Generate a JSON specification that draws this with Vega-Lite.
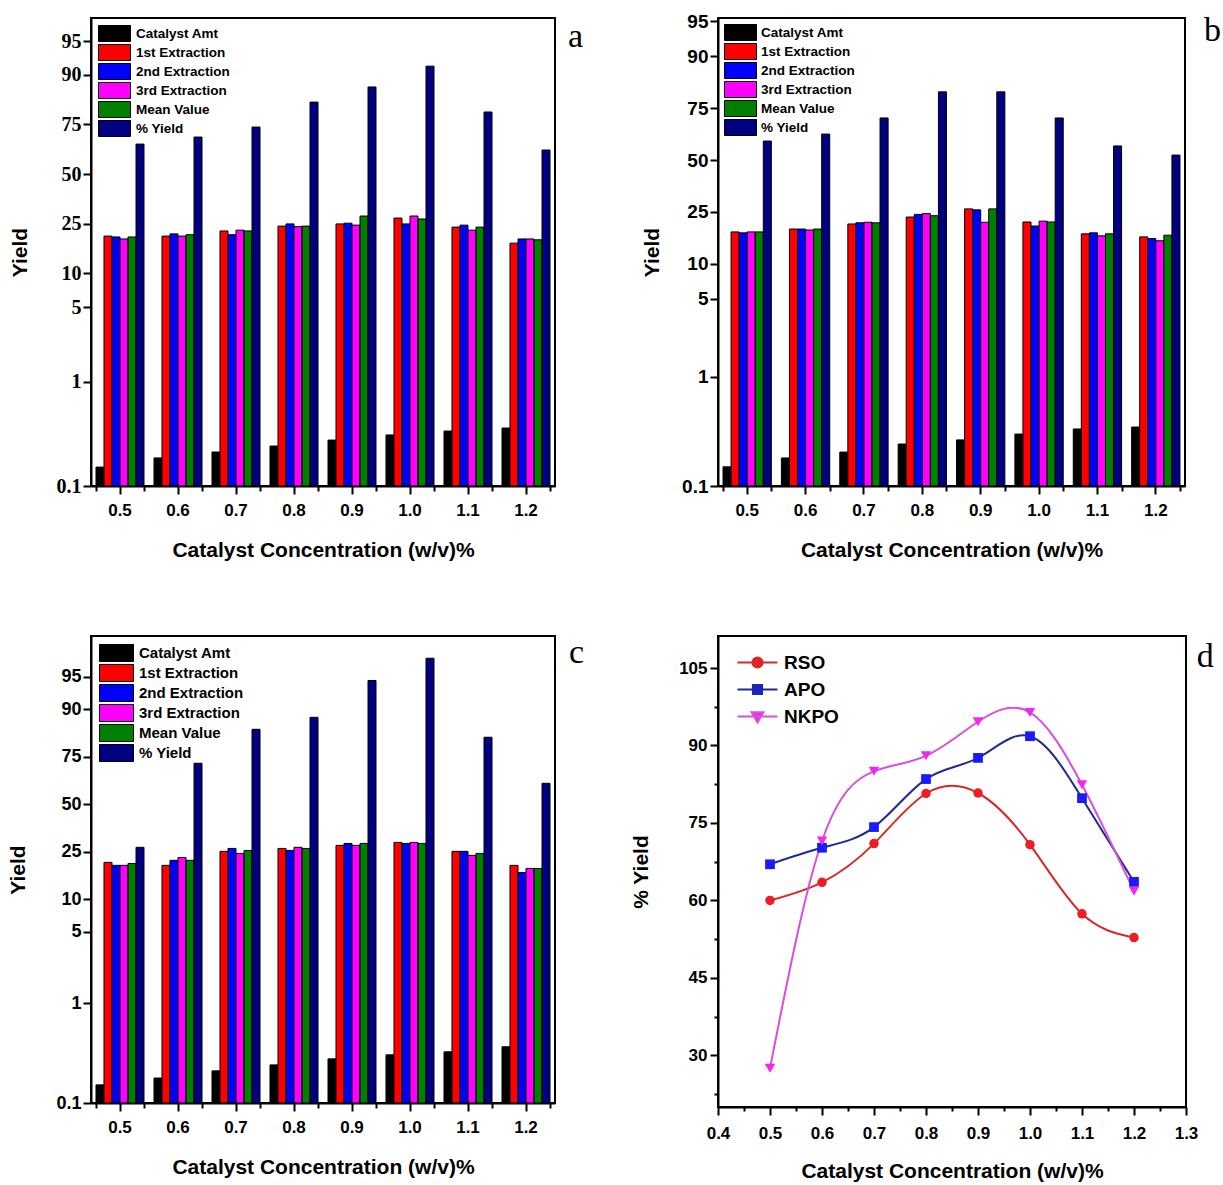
{
  "$schema": "https://vega.github.io/schema/vega-lite/v6.json",
  "padding": {"left": 6, "top": 11, "right": 5, "bottom": 5},
  "background": "white",
  "config": {
    "font": "Liberation Sans",
    "view": {"stroke": "black", "strokeWidth": 2},
    "axis": {"domainColor": "black", "domainWidth": 2, "tickColor": "black", "tickWidth": 2, "labelColor": "black", "titleColor": "black", "labelFontWeight": "bold", "titleFontWeight": "bold", "grid": false, "labelFont": "Liberation Sans", "titleFont": "Liberation Sans"},
    "legend": {"labelFont": "Liberation Sans", "labelFontWeight": "bold", "labelColor": "black"},
    "title": {"color": "black"}
  },
  "datasets": {
    "bars": [
      {"panel":"a","conc":"0.5","series":"Catalyst Amt","value":0.152},{"panel":"a","conc":"0.5","series":"1st Extraction","value":20.2},{"panel":"a","conc":"0.5","series":"2nd Extraction","value":19.9},{"panel":"a","conc":"0.5","series":"3rd Extraction","value":19.2},{"panel":"a","conc":"0.5","series":"Mean Value","value":19.9},{"panel":"a","conc":"0.5","series":"% Yield","value":66.0},
      {"panel":"a","conc":"0.6","series":"Catalyst Amt","value":0.186},{"panel":"a","conc":"0.6","series":"1st Extraction","value":20.2},{"panel":"a","conc":"0.6","series":"2nd Extraction","value":21.0},{"panel":"a","conc":"0.6","series":"3rd Extraction","value":20.2},{"panel":"a","conc":"0.6","series":"Mean Value","value":20.7},{"panel":"a","conc":"0.6","series":"% Yield","value":69.4},
      {"panel":"a","conc":"0.7","series":"Catalyst Amt","value":0.212},{"panel":"a","conc":"0.7","series":"1st Extraction","value":22.1},{"panel":"a","conc":"0.7","series":"2nd Extraction","value":20.7},{"panel":"a","conc":"0.7","series":"3rd Extraction","value":22.4},{"panel":"a","conc":"0.7","series":"Mean Value","value":22.1},{"panel":"a","conc":"0.7","series":"% Yield","value":73.9},
      {"panel":"a","conc":"0.8","series":"Catalyst Amt","value":0.242},{"panel":"a","conc":"0.8","series":"1st Extraction","value":24.0},{"panel":"a","conc":"0.8","series":"2nd Extraction","value":24.9},{"panel":"a","conc":"0.8","series":"3rd Extraction","value":23.8},{"panel":"a","conc":"0.8","series":"Mean Value","value":24.0},{"panel":"a","conc":"0.8","series":"% Yield","value":83.1},
      {"panel":"a","conc":"0.9","series":"Catalyst Amt","value":0.276},{"panel":"a","conc":"0.9","series":"1st Extraction","value":24.9},{"panel":"a","conc":"0.9","series":"2nd Extraction","value":25.2},{"panel":"a","conc":"0.9","series":"3rd Extraction","value":24.4},{"panel":"a","conc":"0.9","series":"Mean Value","value":28.3},{"panel":"a","conc":"0.9","series":"% Yield","value":87.3},
      {"panel":"a","conc":"1.0","series":"Catalyst Amt","value":0.309},{"panel":"a","conc":"1.0","series":"1st Extraction","value":27.4},{"panel":"a","conc":"1.0","series":"2nd Extraction","value":24.9},{"panel":"a","conc":"1.0","series":"3rd Extraction","value":28.3},{"panel":"a","conc":"1.0","series":"Mean Value","value":27.0},{"panel":"a","conc":"1.0","series":"% Yield","value":91.6},
      {"panel":"a","conc":"1.1","series":"Catalyst Amt","value":0.337},{"panel":"a","conc":"1.1","series":"1st Extraction","value":23.6},{"panel":"a","conc":"1.1","series":"2nd Extraction","value":24.4},{"panel":"a","conc":"1.1","series":"3rd Extraction","value":22.4},{"panel":"a","conc":"1.1","series":"Mean Value","value":23.6},{"panel":"a","conc":"1.1","series":"% Yield","value":79.8},
      {"panel":"a","conc":"1.2","series":"Catalyst Amt","value":0.360},{"panel":"a","conc":"1.2","series":"1st Extraction","value":17.8},{"panel":"a","conc":"1.2","series":"2nd Extraction","value":19.2},{"panel":"a","conc":"1.2","series":"3rd Extraction","value":19.2},{"panel":"a","conc":"1.2","series":"Mean Value","value":18.9},{"panel":"a","conc":"1.2","series":"% Yield","value":63.0},

      {"panel":"b","conc":"0.5","series":"Catalyst Amt","value":0.150},{"panel":"b","conc":"0.5","series":"1st Extraction","value":17.9},{"panel":"b","conc":"0.5","series":"2nd Extraction","value":17.6},{"panel":"b","conc":"0.5","series":"3rd Extraction","value":17.9},{"panel":"b","conc":"0.5","series":"Mean Value","value":17.9},{"panel":"b","conc":"0.5","series":"% Yield","value":59.9},
      {"panel":"b","conc":"0.6","series":"Catalyst Amt","value":0.181},{"panel":"b","conc":"0.6","series":"1st Extraction","value":18.8},{"panel":"b","conc":"0.6","series":"2nd Extraction","value":18.8},{"panel":"b","conc":"0.6","series":"3rd Extraction","value":18.5},{"panel":"b","conc":"0.6","series":"Mean Value","value":18.8},{"panel":"b","conc":"0.6","series":"% Yield","value":63.4},
      {"panel":"b","conc":"0.7","series":"Catalyst Amt","value":0.205},{"panel":"b","conc":"0.7","series":"1st Extraction","value":20.5},{"panel":"b","conc":"0.7","series":"2nd Extraction","value":20.9},{"panel":"b","conc":"0.7","series":"3rd Extraction","value":21.1},{"panel":"b","conc":"0.7","series":"Mean Value","value":20.9},{"panel":"b","conc":"0.7","series":"% Yield","value":70.9},
      {"panel":"b","conc":"0.8","series":"Catalyst Amt","value":0.243},{"panel":"b","conc":"0.8","series":"1st Extraction","value":23.0},{"panel":"b","conc":"0.8","series":"2nd Extraction","value":24.0},{"panel":"b","conc":"0.8","series":"3rd Extraction","value":24.3},{"panel":"b","conc":"0.8","series":"Mean Value","value":23.5},{"panel":"b","conc":"0.8","series":"% Yield","value":80.9},
      {"panel":"b","conc":"0.9","series":"Catalyst Amt","value":0.265},{"panel":"b","conc":"0.9","series":"1st Extraction","value":26.2},{"panel":"b","conc":"0.9","series":"2nd Extraction","value":25.8},{"panel":"b","conc":"0.9","series":"3rd Extraction","value":21.1},{"panel":"b","conc":"0.9","series":"Mean Value","value":26.2},{"panel":"b","conc":"0.9","series":"% Yield","value":80.9},
      {"panel":"b","conc":"1.0","series":"Catalyst Amt","value":0.300},{"panel":"b","conc":"1.0","series":"1st Extraction","value":21.2},{"panel":"b","conc":"1.0","series":"2nd Extraction","value":19.8},{"panel":"b","conc":"1.0","series":"3rd Extraction","value":21.5},{"panel":"b","conc":"1.0","series":"Mean Value","value":21.2},{"panel":"b","conc":"1.0","series":"% Yield","value":70.9},
      {"panel":"b","conc":"1.1","series":"Catalyst Amt","value":0.334},{"panel":"b","conc":"1.1","series":"1st Extraction","value":17.3},{"panel":"b","conc":"1.1","series":"2nd Extraction","value":17.6},{"panel":"b","conc":"1.1","series":"3rd Extraction","value":16.7},{"panel":"b","conc":"1.1","series":"Mean Value","value":17.3},{"panel":"b","conc":"1.1","series":"% Yield","value":57.4},
      {"panel":"b","conc":"1.2","series":"Catalyst Amt","value":0.348},{"panel":"b","conc":"1.2","series":"1st Extraction","value":16.4},{"panel":"b","conc":"1.2","series":"2nd Extraction","value":15.9},{"panel":"b","conc":"1.2","series":"3rd Extraction","value":15.3},{"panel":"b","conc":"1.2","series":"Mean Value","value":16.9},{"panel":"b","conc":"1.2","series":"% Yield","value":52.6},

      {"panel":"c","conc":"0.5","series":"Catalyst Amt","value":0.152},{"panel":"c","conc":"0.5","series":"1st Extraction","value":20.7},{"panel":"c","conc":"0.5","series":"2nd Extraction","value":19.6},{"panel":"c","conc":"0.5","series":"3rd Extraction","value":19.6},{"panel":"c","conc":"0.5","series":"Mean Value","value":20.3},{"panel":"c","conc":"0.5","series":"% Yield","value":27.0},
      {"panel":"c","conc":"0.6","series":"Catalyst Amt","value":0.178},{"panel":"c","conc":"0.6","series":"1st Extraction","value":19.6},{"panel":"c","conc":"0.6","series":"2nd Extraction","value":21.5},{"panel":"c","conc":"0.6","series":"3rd Extraction","value":22.6},{"panel":"c","conc":"0.6","series":"Mean Value","value":21.5},{"panel":"c","conc":"0.6","series":"% Yield","value":72.1},
      {"panel":"c","conc":"0.7","series":"Catalyst Amt","value":0.210},{"panel":"c","conc":"0.7","series":"1st Extraction","value":25.2},{"panel":"c","conc":"0.7","series":"2nd Extraction","value":26.5},{"panel":"c","conc":"0.7","series":"3rd Extraction","value":24.3},{"panel":"c","conc":"0.7","series":"Mean Value","value":25.6},{"panel":"c","conc":"0.7","series":"% Yield","value":85.0},
      {"panel":"c","conc":"0.8","series":"Catalyst Amt","value":0.241},{"panel":"c","conc":"0.8","series":"1st Extraction","value":26.5},{"panel":"c","conc":"0.8","series":"2nd Extraction","value":25.6},{"panel":"c","conc":"0.8","series":"3rd Extraction","value":27.0},{"panel":"c","conc":"0.8","series":"Mean Value","value":26.5},{"panel":"c","conc":"0.8","series":"% Yield","value":88.2},
      {"panel":"c","conc":"0.9","series":"Catalyst Amt","value":0.277},{"panel":"c","conc":"0.9","series":"1st Extraction","value":27.9},{"panel":"c","conc":"0.9","series":"2nd Extraction","value":28.8},{"panel":"c","conc":"0.9","series":"3rd Extraction","value":27.9},{"panel":"c","conc":"0.9","series":"Mean Value","value":28.8},{"panel":"c","conc":"0.9","series":"% Yield","value":94.6},
      {"panel":"c","conc":"1.0","series":"Catalyst Amt","value":0.304},{"panel":"c","conc":"1.0","series":"1st Extraction","value":29.3},{"panel":"c","conc":"1.0","series":"2nd Extraction","value":28.8},{"panel":"c","conc":"1.0","series":"3rd Extraction","value":29.3},{"panel":"c","conc":"1.0","series":"Mean Value","value":28.8},{"panel":"c","conc":"1.0","series":"% Yield","value":96.7},
      {"panel":"c","conc":"1.1","series":"Catalyst Amt","value":0.326},{"panel":"c","conc":"1.1","series":"1st Extraction","value":25.2},{"panel":"c","conc":"1.1","series":"2nd Extraction","value":25.2},{"panel":"c","conc":"1.1","series":"3rd Extraction","value":23.5},{"panel":"c","conc":"1.1","series":"Mean Value","value":24.3},{"panel":"c","conc":"1.1","series":"% Yield","value":82.5},
      {"panel":"c","conc":"1.2","series":"Catalyst Amt","value":0.366},{"panel":"c","conc":"1.2","series":"1st Extraction","value":19.6},{"panel":"c","conc":"1.2","series":"2nd Extraction","value":17.1},{"panel":"c","conc":"1.2","series":"3rd Extraction","value":18.5},{"panel":"c","conc":"1.2","series":"Mean Value","value":18.5},{"panel":"c","conc":"1.2","series":"% Yield","value":61.9}
    ],
    "lines": [
      {"conc":0.5,"oil":"RSO","yield":60.0},{"conc":0.6,"oil":"RSO","yield":63.5},{"conc":0.7,"oil":"RSO","yield":71.0},{"conc":0.8,"oil":"RSO","yield":80.7},{"conc":0.9,"oil":"RSO","yield":80.8},{"conc":1.0,"oil":"RSO","yield":70.8},{"conc":1.1,"oil":"RSO","yield":57.4},{"conc":1.2,"oil":"RSO","yield":52.8},
      {"conc":0.5,"oil":"APO","yield":67.0},{"conc":0.6,"oil":"APO","yield":70.2},{"conc":0.7,"oil":"APO","yield":74.2},{"conc":0.8,"oil":"APO","yield":83.5},{"conc":0.9,"oil":"APO","yield":87.6},{"conc":1.0,"oil":"APO","yield":91.8},{"conc":1.1,"oil":"APO","yield":79.8},{"conc":1.2,"oil":"APO","yield":63.6},
      {"conc":0.5,"oil":"NKPO","yield":27.5},{"conc":0.6,"oil":"NKPO","yield":71.5},{"conc":0.7,"oil":"NKPO","yield":85.0},{"conc":0.8,"oil":"NKPO","yield":88.0},{"conc":0.9,"oil":"NKPO","yield":94.6},{"conc":1.0,"oil":"NKPO","yield":96.4},{"conc":1.1,"oil":"NKPO","yield":82.4},{"conc":1.2,"oil":"NKPO","yield":61.8}
    ]
  },
  "columns": 2,
  "bounds": "flush",
  "spacing": {"row": 150, "column": 163},
  "resolve": {"scale": {"color": "independent", "x": "independent", "y": "independent", "xOffset": "independent"}},
  "concat": [
    {
      "width": 464, "height": 468,
      "title": {"text": "a", "orient": "right", "anchor": "start", "angle": 0, "align": "left", "baseline": "top", "font": "Liberation Serif", "fontSize": 34, "fontWeight": "normal", "offset": -2, "dy": 2},
      "data": {"name": "bars"},
      "transform": [{"filter": "datum.panel === 'a'"}, {"calculate": "log(datum.value/(100-datum.value))", "as": "ly"}],
      "layer": [
        {
          "mark": {"type": "bar", "stroke": "black", "strokeWidth": 1},
          "encoding": {
            "x": {"field": "conc", "type": "nominal", "scale": {"paddingInner": 0.172, "paddingOuter": 0.086},
                  "axis": {"labelAngle": 0, "labelFontSize": 17, "tickSize": 8, "labelPadding": 8, "title": "Catalyst Concentration (w/v)%", "titleFontSize": 21, "titlePadding": 21}},
            "xOffset": {"field": "series", "type": "nominal", "scale": {"domain": ["Catalyst Amt","1st Extraction","2nd Extraction","3rd Extraction","Mean Value","% Yield"], "paddingInner": 0, "paddingOuter": 0}},
            "y": {"field": "ly", "type": "quantitative", "scale": {"domain": [-6.906755, 3.455], "nice": false, "zero": false},
                  "axis": {"values": [-6.906755, -4.59512, -2.944439, -2.197225, -1.098612, 0, 1.098612, 2.197225, 2.944439], "labelExpr": "format(100/(1+exp(-datum.value)), '.2~r')", "labelFont": "Liberation Serif", "labelFontSize": 20, "tickSize": 8, "labelPadding": 2, "title": "Yield", "titleFontSize": 21, "titlePadding": 26}},
            "y2": {"datum": -6.906755},
            "color": {"field": "series", "type": "nominal", "scale": {"domain": ["Catalyst Amt","1st Extraction","2nd Extraction","3rd Extraction","Mean Value","% Yield"], "range": ["#000000","#ff0000","#0000ff","#ff00ff","#008000","#000080"]},
                      "legend": {"title": null, "orient": "top-left", "offset": 7, "padding": 0, "symbolType": "M-1,-1H3V1H-1Z", "symbolSize": 256, "symbolStrokeColor": "black", "symbolStrokeWidth": 1, "symbolOpacity": 1, "labelFontSize": 13.5, "labelOffset": 21, "rowPadding": -4}}
          }
        },
        {
          "mark": {"type": "rule", "opacity": 0},
          "encoding": {"x": {"field": "conc", "type": "nominal", "axis": {"orient": "bottom", "tickBand": "extent", "labels": false, "domain": false, "title": null, "tickSize": 5}}}
        }
      ],
      "resolve": {"axis": {"x": "independent"}}
    },
    {
      "width": 467, "height": 468,
      "title": {"text": "b", "orient": "right", "anchor": "start", "angle": 0, "align": "left", "baseline": "top", "font": "Liberation Serif", "fontSize": 34, "fontWeight": "normal", "offset": 2, "dy": 2},
      "data": {"name": "bars"},
      "transform": [{"filter": "datum.panel === 'b'"}, {"calculate": "log(datum.value/(100-datum.value))", "as": "ly"}],
      "layer": [
        {
          "mark": {"type": "bar", "stroke": "black", "strokeWidth": 1},
          "encoding": {
            "x": {"field": "conc", "type": "nominal", "scale": {"paddingInner": 0.172, "paddingOuter": 0.086},
                  "axis": {"labelAngle": 0, "labelFontSize": 17, "tickSize": 8, "labelPadding": 8, "title": "Catalyst Concentration (w/v)%", "titleFontSize": 21, "titlePadding": 21}},
            "xOffset": {"field": "series", "type": "nominal", "scale": {"domain": ["Catalyst Amt","1st Extraction","2nd Extraction","3rd Extraction","Mean Value","% Yield"], "paddingInner": 0, "paddingOuter": 0}},
            "y": {"field": "ly", "type": "quantitative", "scale": {"domain": [-6.906755, 3.0085], "nice": false, "zero": false},
                  "axis": {"values": [-6.906755, -4.59512, -2.944439, -2.197225, -1.098612, 0, 1.098612, 2.197225, 2.944439], "labelExpr": "format(100/(1+exp(-datum.value)), '.2~r')", "labelFontSize": 19, "tickSize": 8, "labelPadding": 2, "title": "Yield", "titleFontSize": 21, "titlePadding": 19}},
            "y2": {"datum": -6.906755},
            "color": {"field": "series", "type": "nominal", "scale": {"domain": ["Catalyst Amt","1st Extraction","2nd Extraction","3rd Extraction","Mean Value","% Yield"], "range": ["#000000","#ff0000","#0000ff","#ff00ff","#008000","#000080"]},
                      "legend": {"title": null, "orient": "top-left", "offset": 6, "padding": 0, "symbolType": "M-1,-1H3V1H-1Z", "symbolSize": 256, "symbolStrokeColor": "black", "symbolStrokeWidth": 1, "symbolOpacity": 1, "labelFontSize": 13.5, "labelOffset": 20, "rowPadding": -4}}
          }
        },
        {
          "mark": {"type": "rule", "opacity": 0},
          "encoding": {"x": {"field": "conc", "type": "nominal", "axis": {"orient": "bottom", "tickBand": "extent", "labels": false, "domain": false, "title": null, "tickSize": 5}}}
        }
      ],
      "resolve": {"axis": {"x": "independent"}}
    },
    {
      "width": 464, "height": 467,
      "title": {"text": "c", "orient": "right", "anchor": "start", "angle": 0, "align": "left", "baseline": "top", "font": "Liberation Serif", "fontSize": 34, "fontWeight": "normal", "offset": -1, "dy": 0},
      "data": {"name": "bars"},
      "transform": [{"filter": "datum.panel === 'c'"}, {"calculate": "log(datum.value/(100-datum.value))", "as": "ly"}],
      "layer": [
        {
          "mark": {"type": "bar", "stroke": "black", "strokeWidth": 1},
          "encoding": {
            "x": {"field": "conc", "type": "nominal", "scale": {"paddingInner": 0.172, "paddingOuter": 0.086},
                  "axis": {"labelAngle": 0, "labelFontSize": 17, "tickSize": 8, "labelPadding": 8, "title": "Catalyst Concentration (w/v)%", "titleFontSize": 21, "titlePadding": 21}},
            "xOffset": {"field": "series", "type": "nominal", "scale": {"domain": ["Catalyst Amt","1st Extraction","2nd Extraction","3rd Extraction","Mean Value","% Yield"], "paddingInner": 0, "paddingOuter": 0}},
            "y": {"field": "ly", "type": "quantitative", "scale": {"domain": [-6.906755, 3.89182], "nice": false, "zero": false},
                  "axis": {"values": [-6.906755, -4.59512, -2.944439, -2.197225, -1.098612, 0, 1.098612, 2.197225, 2.944439], "labelExpr": "format(100/(1+exp(-datum.value)), '.2~r')", "labelFontSize": 18, "tickSize": 8, "labelPadding": 2, "title": "Yield", "titleFontSize": 21, "titlePadding": 27}},
            "y2": {"datum": -6.906755},
            "color": {"field": "series", "type": "nominal", "scale": {"domain": ["Catalyst Amt","1st Extraction","2nd Extraction","3rd Extraction","Mean Value","% Yield"], "range": ["#000000","#ff0000","#0000ff","#ff00ff","#008000","#000080"]},
                      "legend": {"title": null, "orient": "top-left", "offset": 8, "padding": 0, "symbolType": "M-1,-1H3V1H-1Z", "symbolSize": 289, "symbolStrokeColor": "black", "symbolStrokeWidth": 1, "symbolOpacity": 1, "labelFontSize": 15, "labelOffset": 22, "rowPadding": -2.8}}
          }
        },
        {
          "mark": {"type": "rule", "opacity": 0},
          "encoding": {"x": {"field": "conc", "type": "nominal", "axis": {"orient": "bottom", "tickBand": "extent", "labels": false, "domain": false, "title": null, "tickSize": 5}}}
        }
      ],
      "resolve": {"axis": {"x": "independent"}}
    },
    {
      "width": 468, "height": 471,
      "title": {"text": "d", "orient": "right", "anchor": "start", "angle": 0, "align": "left", "baseline": "top", "font": "Liberation Serif", "fontSize": 34, "fontWeight": "normal", "offset": -18, "dy": 4},
      "data": {"name": "lines"},
      "layer": [
        {
          "mark": {"type": "line", "interpolate": "natural", "strokeWidth": 2},
          "encoding": {
            "x": {"field": "conc", "type": "quantitative", "scale": {"domain": [0.4, 1.3], "nice": false, "zero": false},
                  "axis": {"values": [0.4, 0.5, 0.6, 0.7, 0.8, 0.9, 1.0, 1.1, 1.2, 1.3], "format": ".1f", "labelFontSize": 17, "tickSize": 8, "labelPadding": 10, "labelFlush": false, "title": "Catalyst Concentration (w/v)%", "titleFontSize": 21, "titlePadding": 19}},
            "y": {"field": "yield", "type": "quantitative", "scale": {"domain": [20, 111.2], "nice": false, "zero": false},
                  "axis": {"values": [30, 45, 60, 75, 90, 105], "labelFontSize": 17, "tickSize": 8, "labelPadding": 3, "labelFlush": false, "title": "% Yield", "titleFontSize": 21, "titlePadding": 27}},
            "color": {"field": "oil", "type": "nominal", "scale": {"domain": ["RSO", "APO", "NKPO"], "range": ["#d42a2a", "#1c2a94", "#d84fd8"]},
                      "legend": {"title": null, "orient": "top-left", "offset": 17, "padding": 0, "symbolSize": 196, "symbolStrokeWidth": 2, "labelFontSize": 19, "labelOffset": 30, "rowPadding": 7,
                                 "encode": {"symbols": {"update": {
                                   "shape": {"signal": "datum.value === 'RSO' ? 'M-1,0H4.714M1.137,0A0.72,0.72,0,1,0,2.577,0A0.72,0.72,0,1,0,1.137,0Z' : datum.value === 'APO' ? 'M-1,0H4.714M1.207,-0.65H2.507V0.65H1.207Z' : 'M-1,0H4.714M1.007,-0.6H2.707L1.857,0.85Z'"},
                                   "fill": {"signal": "datum.value === 'RSO' ? '#ee1c24' : datum.value === 'APO' ? '#1a1aff' : '#f028f0'"},
                                   "strokeWidth": {"value": 2},
                                   "opacity": {"value": 1}}}}}}
          }
        },
        {
          "transform": [{"filter": "datum.oil === 'RSO'"}],
          "mark": {"type": "point", "shape": "circle", "filled": true, "opacity": 1, "size": 90, "fill": "#ee1c24"},
          "encoding": {"x": {"field": "conc", "type": "quantitative", "axis": null}, "y": {"field": "yield", "type": "quantitative", "axis": null}}
        },
        {
          "transform": [{"filter": "datum.oil === 'APO'"}],
          "mark": {"type": "point", "shape": "square", "filled": true, "opacity": 1, "size": 95, "fill": "#1a1aff"},
          "encoding": {"x": {"field": "conc", "type": "quantitative", "axis": null}, "y": {"field": "yield", "type": "quantitative", "axis": null}}
        },
        {
          "transform": [{"filter": "datum.oil === 'NKPO'"}],
          "mark": {"type": "point", "shape": "triangle-down", "filled": true, "opacity": 1, "size": 110, "fill": "#f028f0"},
          "encoding": {"x": {"field": "conc", "type": "quantitative", "axis": null}, "y": {"field": "yield", "type": "quantitative", "axis": null}}
        },
        {
          "mark": {"type": "point", "opacity": 0},
          "encoding": {
            "x": {"field": "conc", "type": "quantitative", "axis": {"orient": "bottom", "values": [0.45, 0.55, 0.65, 0.75, 0.85, 0.95, 1.05, 1.15, 1.25], "labels": false, "domain": false, "title": null, "tickSize": 4}},
            "y": {"field": "yield", "type": "quantitative", "axis": {"orient": "left", "values": [22.5, 37.5, 52.5, 67.5, 82.5, 97.5], "labels": false, "domain": false, "title": null, "tickSize": 4}}
          }
        }
      ],
      "resolve": {"axis": {"x": "independent", "y": "independent"}}
    }
  ]
}
